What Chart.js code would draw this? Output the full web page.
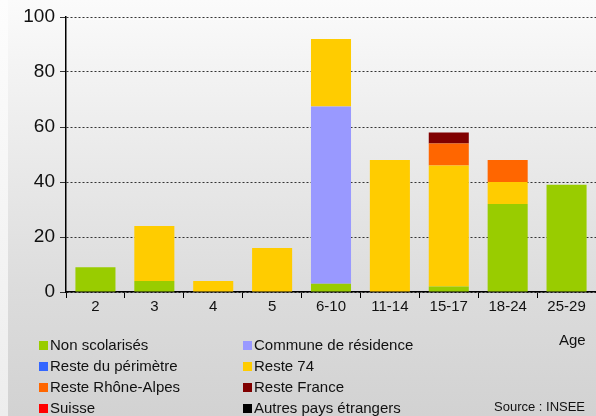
<!DOCTYPE html>
<html>
<head>
<meta charset="utf-8">
<script src="https://cdn.jsdelivr.net/npm/chart.js@4"></script>
<style>
  html, body { margin: 0; padding: 0; }
  body {
    width: 596px; height: 416px; position: relative; overflow: hidden;
    background: linear-gradient(to bottom, #fbfbfb 0px, #f2f2f2 80px, #dcdcdc 290px, #d2d2d2 416px);
    font-family: "Liberation Sans", Arial, sans-serif;
  }
  #strip { position: absolute; left: 0; top: 0; width: 8px; height: 416px;
    background: linear-gradient(to bottom, #fdfdfd, #ededed); }
  #wrap { position: absolute; left: 0; top: 0; width: 596px; height: 416px; }
  .leg { position: absolute; font-size: 15px; color: #111; white-space: nowrap; }
  .leg i { display: inline-block; width: 9px; height: 9px; margin-right: 2px; vertical-align: 0px; }
  #age { position: absolute; left: 559px; top: 331px; font-size: 15px; color: #111; }
  #src { position: absolute; left: 494px; top: 399px; font-size: 13px; color: #111; }
</style>
</head>
<body>
<div id="strip"></div>
<div id="wrap"><canvas id="chart" width="596" height="416"></canvas></div>
<div id="legend"></div>
<div id="age">Age</div>
<div id="src">Source : INSEE</div>
<script>
const categories = ["2", "3", "4", "5", "6-10", "11-14", "15-17", "18-24", "25-29"];
const seriesNames = ["Non scolarisés", "Commune de résidence", "Reste du périmètre", "Reste 74",
  "Reste Rhône-Alpes", "Reste France", "Suisse", "Autres pays étrangers"];
const seriesColors = ["#99cc00", "#9999ff", "#3366ff", "#ffcc00", "#ff6600", "#800000", "#ff0000", "#000000"];
const nonScolarises   = [9, 4, 0, 0, 3, 0, 2, 32, 39];
const communeResid    = [0, 0, 0, 0, 64.5, 0, 0, 0, 0];
const restePerimetre  = [0, 0, 0, 0, 0, 0, 0, 0, 0];
const reste74         = [0, 20, 4, 16, 24.5, 48, 44, 8, 0];
const resteRhoneAlpes = [0, 0, 0, 0, 0, 0, 8, 8, 0];
const resteFrance     = [0, 0, 0, 0, 0, 0, 4, 0, 0];
const suisse          = [0, 0, 0, 0, 0, 0, 0, 0, 0];
const autresPays      = [0, 0, 0, 0, 0, 0, 0, 0, 0];
const yTicks = [0, 20, 40, 60, 80, 100];

const values = [nonScolarises, communeResid, restePerimetre, reste74, resteRhoneAlpes, resteFrance, suisse, autresPays];

// legend in two columns
const legend = document.getElementById("legend");
seriesNames.forEach((name, i) => {
  const d = document.createElement("div");
  d.className = "leg";
  d.style.left = (i % 2 === 0 ? 39 : 243) + "px";
  d.style.top = (336 + Math.floor(i / 2) * 21) + "px";
  d.innerHTML = '<i style="background:' + seriesColors[i] + '"></i>' + name;
  legend.appendChild(d);
});

new Chart(document.getElementById("chart").getContext("2d"), {
  type: "bar",
  data: {
    labels: categories,
    datasets: values.map((v, i) => ({
      label: seriesNames[i],
      data: v,
      backgroundColor: seriesColors[i],
      borderWidth: 0,
      barPercentage: 0.68,
      categoryPercentage: 1.0,
    })),
  },
  options: {
    responsive: false,
    animation: false,
    layout: { padding: { left: 0, right: 0, top: 17, bottom: 100 } },
    plugins: { legend: { display: false }, tooltip: { enabled: false } },
    scales: {
      x: {
        stacked: true,
        grid: { drawOnChartArea: false, drawTicks: true, tickLength: 6, color: "#000", offset: true },
        border: { color: "#000", width: 1.5 },
        ticks: { color: "#111", font: { size: 15, family: "Liberation Sans" }, padding: 0 },
      },
      y: {
        stacked: true,
        min: 0,
        max: 100,
        afterBuildTicks: (axis) => { axis.ticks = yTicks.map((v) => ({ value: v })); },
        grid: { color: "#333", lineWidth: 1, tickLength: 6 },
        border: { color: "#000", width: 1.5, dash: [2, 2] },
        ticks: { color: "#111", font: { size: 19, family: "Liberation Sans" }, padding: 5 },
        afterFit: (axis) => { axis.width = 66; },
      },
    },
  },
});
</script>
</body>
</html>
